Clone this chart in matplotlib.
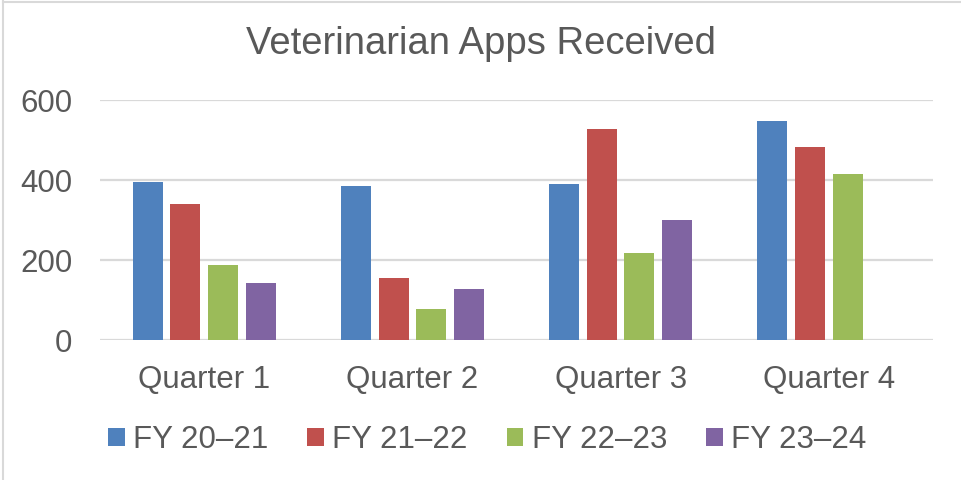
import matplotlib.pyplot as plt
import numpy as np
from matplotlib.patches import Patch

plt.rcParams['font.family'] = ['Liberation Sans', 'DejaVu Sans']

quarters = ['Quarter 1', 'Quarter 2', 'Quarter 3', 'Quarter 4']
series = ['FY 20\u201321', 'FY 21\u201322', 'FY 22\u201323', 'FY 23\u201324']
fy2021 = [395, 385, 390, 548]
fy2122 = [340, 156, 528, 483]
fy2223 = [188, 78, 218, 415]
fy2324 = [143, 128, 300, np.nan]
colors = ['#4F81BD', '#C0504D', '#9BBB59', '#8064A2']
text_col = '#595959'

fig = plt.figure(figsize=(9.61, 4.8), dpi=100)
ax = fig.add_axes([100/961, 1 - 340.3/480, 833/961, 240.3/480])

x = np.arange(len(quarters))
step = 0.181
width = 0.144
for i, vals in enumerate([fy2021, fy2122, fy2223, fy2324]):
    ax.bar(x + (i - 1.5) * step, vals, width, color=colors[i], zorder=3)

ax.set_xlim(-0.5, 3.5)
ax.set_ylim(0, 600)
ax.set_yticks([0, 200, 400, 600])
ax.set_xticks(x)
ax.set_xticklabels(quarters)
ax.grid(axis='y', color='#D9D9D9', linewidth=1.6, zorder=0)
ax.tick_params(axis='both', length=0, labelsize=22.5, labelcolor=text_col)
ax.tick_params(axis='y', pad=20)
ax.tick_params(axis='x', pad=17.5)
for s in ax.spines.values():
    s.set_visible(False)

fig.text(0.5, 1 - 44/480, 'Veterinarian Apps Received', ha='center', va='center',
         fontsize=27.5, color=text_col)

handles = [Patch(facecolor=c, edgecolor='none') for c in colors]
fig.legend(handles, series, loc='center', bbox_to_anchor=(487/961, 1 - 440/480),
           ncol=4, frameon=False, fontsize=22.5, labelcolor=text_col,
           handlelength=0.54, handleheight=0.54, handletextpad=0.26,
           columnspacing=1.25, borderpad=0)

# light chart-area border (top and left visible in the reference)
fig.add_artist(plt.Line2D([3/961, 3/961], [0, 1 - 1/480], color='#D9D9D9', lw=1.5, transform=fig.transFigure))
fig.add_artist(plt.Line2D([3/961, 1], [1 - 1.5/480, 1 - 1.5/480], color='#D9D9D9', lw=1.5, transform=fig.transFigure))

fig.savefig('out.png', dpi=100)
